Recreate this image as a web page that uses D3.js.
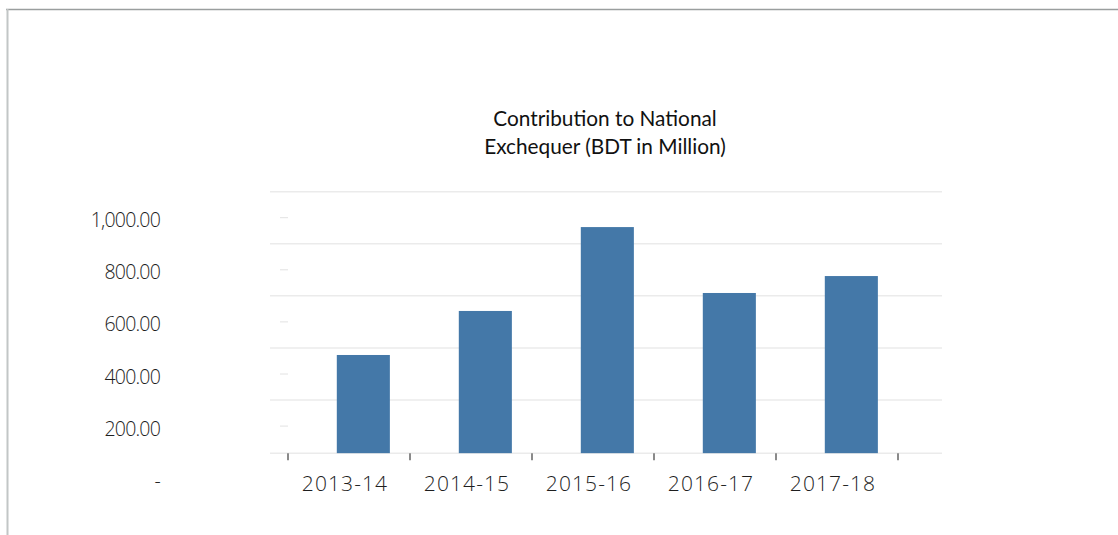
<!DOCTYPE html>
<html><head><meta charset="utf-8">
<script src="https://cdn.jsdelivr.net/npm/d3@7"></script>
<style>body{margin:0;background:#fff}svg{display:block}</style>
</head><body><svg id="c" width="1118" height="535"></svg>
<script>
const categories = ["2013-14","2014-15","2015-16","2016-17","2017-18"];
const values = [473, 642, 964, 711, 776];
const yTicks = [0, 200, 400, 600, 800, 1000];
const titleLines = ["Contribution to National", "Exchequer (BDT in Million)"];

const svg = d3.select("#c");
// frame
svg.append("line").attr("x1",6).attr("x2",1118).attr("y1",9.5).attr("y2",9.5).attr("stroke","#9a9e9e").attr("stroke-width",1.5);
svg.append("line").attr("x1",7.5).attr("x2",7.5).attr("y1",9).attr("y2",535).attr("stroke","#c2c6c6").attr("stroke-width",2);

const x = d3.scaleBand().domain(categories).range([288, 898]).padding(0);
const y = d3.scaleLinear().domain([0, 1000]).range([478.2, 217.7]);
const half = (y(0) - y(200)) / 2;
const baseline = y(0) - half + 1;

// title
svg.append("g").selectAll("text").data(titleLines).join("text")
  .attr("x", 605).attr("y", (d,i) => 125.5 + i*28)
  .attr("text-anchor","middle").attr("font-family","Lato, 'Open Sans', sans-serif")
  .attr("font-size", 20.8).attr("fill","#111").text(d => d);

// gridlines
svg.append("g").selectAll("line").data(yTicks).join("line")
  .attr("x1",270).attr("x2",942)
  .attr("y1", d => y(d) - half + (d===0?1:0)).attr("y2", d => y(d) - half + (d===0?1:0))
  .attr("stroke","#ebebeb").attr("stroke-width",1.5);

// y tick dashes
svg.append("g").selectAll("line").data(yTicks.filter(d => d>0)).join("line")
  .attr("x1",280).attr("x2",288).attr("y1", d => y(d)).attr("y2", d => y(d))
  .attr("stroke","#e2e2e2").attr("stroke-width",1);

// y labels
const fmt = d3.format(",.2f");
svg.append("g").selectAll("text").data(yTicks).join("text")
  .attr("x",160).attr("y", d => y(d) + 9.5)
  .attr("text-anchor","end").attr("font-family","'Open Sans', sans-serif")
  .attr("font-size",19.5).attr("font-weight",300).attr("letter-spacing","-0.8px").attr("fill","#1e1e1e")
  .text(d => d===0 ? "-" : fmt(d));

// bars
svg.append("g").selectAll("rect").data(values).join("rect")
  .attr("x", (d,i) => x(categories[i]) + x.bandwidth()*0.4)
  .attr("width", x.bandwidth()*0.435)
  .attr("y", d => y(d)).attr("height", d => baseline - y(d))
  .attr("fill","#4478a8");

// x ticks
const tickPos = categories.map(c => x(c)).concat([x.range()[1]]);
svg.append("g").selectAll("line").data(tickPos).join("line")
  .attr("x1", d => d).attr("x2", d => d).attr("y1", baseline).attr("y2", baseline + 7)
  .attr("stroke","#8a8a8a").attr("stroke-width",2);

// x labels
svg.append("g").selectAll("text").data(categories).join("text")
  .attr("x", d => x(d) + x.bandwidth()/2 - 4).attr("y", 490.5)
  .attr("text-anchor","middle").attr("font-family","'Open Sans', sans-serif")
  .attr("font-size",21).attr("font-weight",300).attr("letter-spacing","1.1px").attr("fill","#1e1e1e").text(d => d);
</script></body></html>
